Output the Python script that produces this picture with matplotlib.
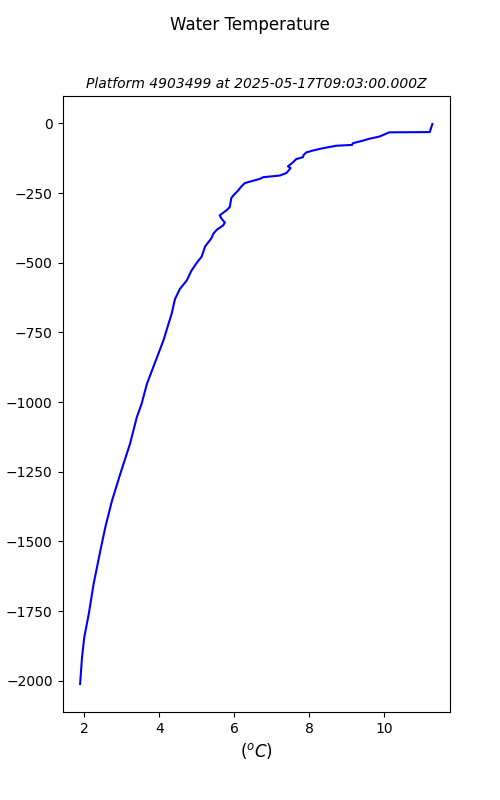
import matplotlib
matplotlib.use("Agg")
import matplotlib.pyplot as plt

temperature = [11.28, 11.26, 11.21, 10.13, 9.87, 9.60, 9.42, 9.16, 9.14, 8.72, 8.36, 8.10,
               7.92, 7.85, 7.83, 7.65, 7.56, 7.43, 7.50, 7.39, 7.21, 6.77, 6.68, 6.28,
               6.19, 6.10, 5.97, 5.92, 5.88, 5.79, 5.61, 5.66, 5.75, 5.70, 5.53, 5.44,
               5.39, 5.22, 5.17, 5.13, 5.00, 4.95, 4.86, 4.73, 4.55, 4.42, 4.33, 4.11,
               3.89, 3.67, 3.53, 3.40, 3.22, 2.96, 2.74, 2.56, 2.43, 2.25, 2.12, 2.00,
               1.94, 1.89]
depth = [-2, -10, -31, -32, -47, -55, -62, -71, -77, -80, -89, -97,
         -104, -113, -121, -128, -140, -154, -160, -178, -187, -193, -199, -214,
         -226, -241, -259, -268, -300, -312, -330, -342, -356, -366, -382, -396,
         -412, -442, -462, -478, -500, -510, -528, -564, -594, -630, -683, -779,
         -857, -935, -1006, -1055, -1150, -1258, -1354, -1450, -1533, -1653, -1761, -1845,
         -1917, -2012]

fig, ax = plt.subplots(figsize=(5, 8), dpi=100)
ax.plot(temperature, depth, color="blue")
fig.suptitle("Water Temperature")
ax.set_title("Platform 4903499 at 2025-05-17T09:03:00.000Z", fontsize=10, style="italic")
ax.set_xlabel("($^oC$)", fontsize=12)
ax.set_ylabel("depth (m)")
fig.savefig("out.png")
